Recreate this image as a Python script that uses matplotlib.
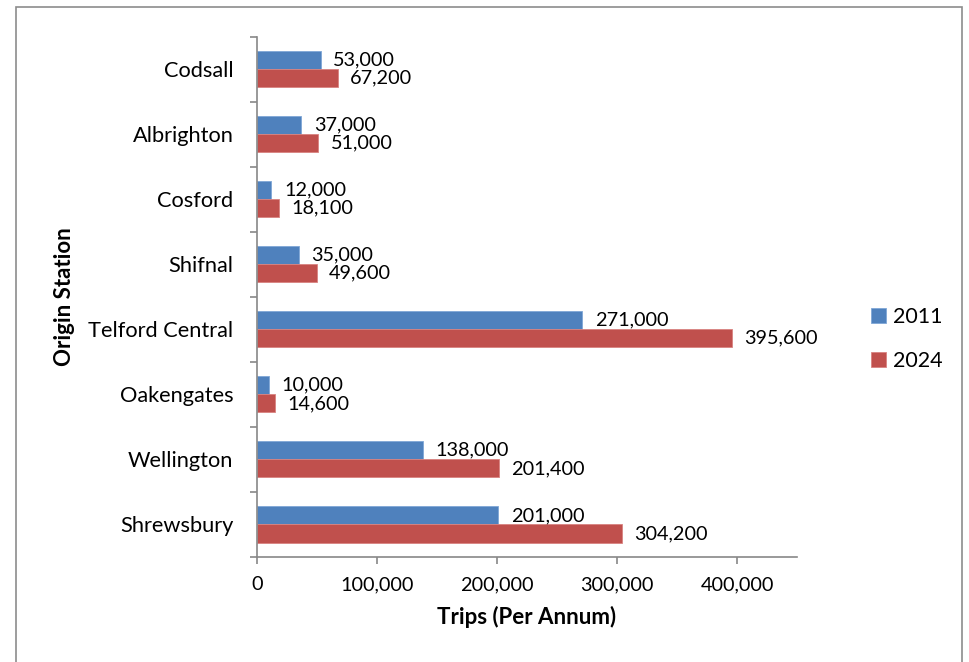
import matplotlib
matplotlib.use("Agg")
import matplotlib.pyplot as plt
import numpy as np
from matplotlib.patches import Rectangle
from matplotlib.ticker import FuncFormatter, FixedLocator

stations = ["Codsall", "Albrighton", "Cosford", "Shifnal", "Telford Central",
            "Oakengates", "Wellington", "Shrewsbury"]
trips_2011 = [53000, 37000, 12000, 35000, 271000, 10000, 138000, 201000]
trips_2024 = [67200, 51000, 18100, 49600, 395600, 14600, 201400, 304200]
series_names = ["2011", "2024"]
xticks = [0, 100000, 200000, 300000, 400000]

plt.rcParams['font.family'] = ['Lato', 'DejaVu Sans']
FS_CAT = 15.7
FS_NUM = 14.3
FS_TITLE = 16
FS_LEG = 15.5

fig = plt.figure(figsize=(9.69, 6.62), dpi=100)
fig.patches.append(Rectangle((16/969, -0.01), (962-16)/969, (662-7)/662 + 0.01,
                             transform=fig.transFigure, fill=False,
                             edgecolor='#8c8c8c', linewidth=1.2))
ax = fig.add_axes([257/969, (662-557)/662, (797-257)/969, (557-36.5)/662])

n = len(stations)
y = np.arange(n)
h = 0.278
blue = '#4F81BD'
red = '#C0504D'
b1 = ax.barh(y - h/2, trips_2011, height=h, color=blue, edgecolor='#7fa6d6', linewidth=0.6, label=series_names[0])
b2 = ax.barh(y + h/2, trips_2024, height=h, color=red, edgecolor='#d98280', linewidth=0.6, label=series_names[1])

for bars, vals in ((b1, trips_2011), (b2, trips_2024)):
    for rect, v in zip(bars, vals):
        ax.annotate(f"{v:,}", (rect.get_width(), rect.get_y() + rect.get_height()/2),
                    xytext=(9, 0), textcoords='offset points', ha='left', va='center',
                    fontsize=FS_NUM, color='black')

ax.set_ylim(n - 0.5, -0.5)
ax.set_xlim(0, 450000)
ax.set_yticks(y)
ax.set_yticklabels(stations, fontsize=FS_CAT)
ax.yaxis.set_minor_locator(FixedLocator(np.arange(-0.5, n, 1)))
ax.tick_params(axis='y', which='major', length=0, pad=17)
ax.tick_params(axis='y', which='minor', length=5, color='#888888', width=1.2)
ax.set_xticks(xticks)
ax.xaxis.set_major_formatter(FuncFormatter(lambda v, p: f"{int(v):,}"))
ax.tick_params(axis='x', which='major', length=5, color='#888888', width=1.2, labelsize=FS_NUM, pad=9)

for s in ('top', 'right'):
    ax.spines[s].set_visible(False)
for s in ('left', 'bottom'):
    ax.spines[s].set_color('#888888')
    ax.spines[s].set_linewidth(1.2)

ax.set_xlabel("Trips (Per Annum)", fontsize=FS_TITLE, fontweight='bold', labelpad=9)
ax.set_ylabel("Origin Station", fontsize=FS_TITLE, fontweight='bold')
ax.yaxis.set_label_coords(-(257-75)/540, 0.5)

fig.legend(handles=[b1, b2], labels=series_names, loc='center left',
           bbox_to_anchor=(852/969, 1 - 339/662), frameon=False, fontsize=FS_LEG,
           handlelength=0.7, handleheight=0.7, labelspacing=1.15, handletextpad=0.3)

fig.savefig("out.png", dpi=100)
